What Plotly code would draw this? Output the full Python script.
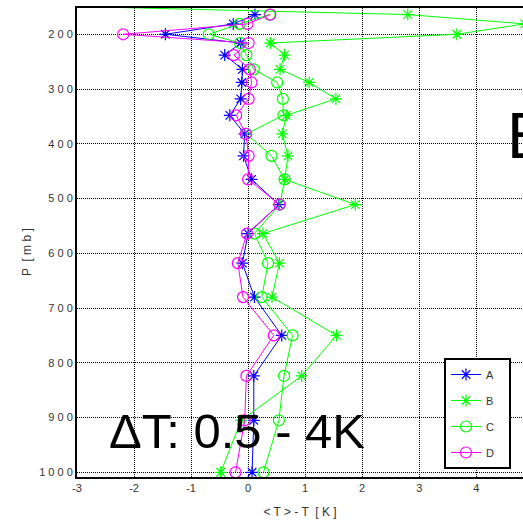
import plotly.graph_objects as go

# pressure levels [mb]
P = [164, 181, 200, 216, 238, 264, 288, 318, 348, 382, 422, 465, 511, 564, 618, 680, 750, 824, 905, 1000]
P_B = [147] + P

A = [0.12, -0.26, -1.45, -0.13, -0.41, -0.10, -0.11, -0.13, -0.32, -0.06, -0.08, 0.06, 0.54, 0.00, -0.10, 0.11, 0.59, 0.10, 0.10, 0.07]
B = [-3.85, 2.80, 4.85, 3.66, 0.39, 0.64, 0.56, 1.07, 1.54, 0.67, 0.60, 0.70, 0.64, 1.88, 0.26, 0.55, 0.42, 1.55, 0.94, -0.12, -0.48]
C = [0.38, -0.15, -0.69, -0.14, -0.03, 0.10, 0.51, 0.61, 0.62, -0.03, 0.41, 0.64, 0.56, 0.11, 0.35, 0.24, 0.78, 0.63, 0.54, 0.27]
D = [0.39, -0.01, -2.19, 0.01, -0.25, 0.03, 0.06, 0.01, -0.21, -0.04, 0.01, 0.00, 0.55, -0.02, -0.18, -0.09, 0.45, -0.03, -0.06, -0.22]

x_ticks = [-3, -2, -1, 0, 1, 2, 3, 4]
x_ticklabels = ["-3", "-2", "-1", "0", "1", "2", "3", "4"]
y_ticks = [200, 300, 400, 500, 600, 700, 800, 900, 1000]
y_ticklabels = ["2 0 0", "3 0 0", "4 0 0", "5 0 0", "6 0 0", "7 0 0", "8 0 0", "9 0 0", "1 0 0 0"]

NARROW = "Liberation Sans Narrow, Liberation Sans, Arial"
TICKFONT = dict(family=NARROW, size=11, color="#333")

fig = go.Figure()
series = [
    ("A", A, P, "#0000ff", "asterisk-open"),
    ("B", B, P_B, "#00ff00", "asterisk-open"),
    ("C", C, P, "#00ff00", "circle-open"),
    ("D", D, P, "#ff00ff", "circle-open"),
]
for name, xs, ps, col, sym in series:
    fig.add_trace(go.Scatter(
        x=xs, y=ps, mode="lines+markers", name=name + "&nbsp;&nbsp;&nbsp;", legendgroup=name,
        line=dict(color=col, width=1),
        marker=dict(symbol=sym, size=11 if sym == "circle-open" else 10,
                    color=col, line=dict(color=col, width=1.2)),
        cliponaxis=True,
    ))

L, T, W, H = 77, 8, 446, 469

fig.update_layout(
    width=523, height=523,
    margin=dict(l=L, r=0, t=T, b=523 - T - H),
    paper_bgcolor="white", plot_bgcolor="white",
    showlegend=True,
    legend=dict(
        x=(444 - L) / W, y=(T + H - 358) / H, xanchor="left", yanchor="top",
        bgcolor="white", bordercolor="black", borderwidth=2,
        font=dict(family=NARROW, size=11, color="#333"),
        tracegroupgap=7, itemwidth=30,
    ),
    xaxis=dict(
        range=[-3, 4.82], tickvals=x_ticks, ticktext=x_ticklabels,
        showgrid=True, gridcolor="black", griddash="1px,1px", gridwidth=1,
        zeroline=False, showline=True, linecolor="black", linewidth=2, mirror=True,
        ticks="", tickfont=TICKFONT,
        title=dict(text="< T > - T  [ K ]", font=dict(family=NARROW, size=12, color="#333"), standoff=14),
    ),
    yaxis=dict(
        range=[1008.6, 152], tickvals=y_ticks, ticktext=y_ticklabels,
        showgrid=True, gridcolor="black", griddash="1px,1px", gridwidth=1,
        zeroline=False, showline=True, linecolor="black", linewidth=2, mirror=False,
        ticks="", tickfont=TICKFONT,
    ),
)

# y-axis title placed as annotation to match reference position
fig.add_annotation(x=(27 - L) / W, y=(T + H - 252) / H, xref="paper", yref="paper",
                   text="P  [ m b ]", textangle=-90, showarrow=False,
                   xanchor="center", yanchor="middle",
                   font=dict(family=NARROW, size=12, color="#333"))

fig.add_annotation(x=-2.47, y=925, xref="x", yref="y", text="ΔT: 0.5 - 4K",
                   showarrow=False, xanchor="left", yanchor="middle",
                   font=dict(family="Liberation Sans, Arial", size=49, color="black"))
fig.add_annotation(x=4.5, y=386, xref="x", yref="y", text="B",
                   showarrow=False, xanchor="left", yanchor="middle",
                   font=dict(family="Liberation Sans, Arial", size=64, color="black"))

fig.write_html("out.html")
